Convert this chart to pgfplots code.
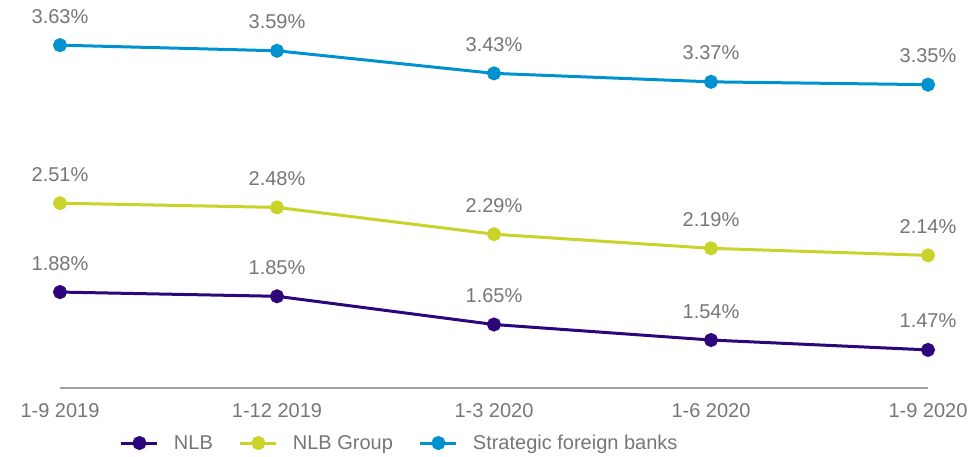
\documentclass[border=0pt]{standalone}
\usepackage{fontspec}
\setmainfont{Liberation Sans}
\usepackage{pgfplots}
\pgfplotsset{compat=1.18}
\definecolor{cblue}{RGB}{0,146,208}
\definecolor{cgreen}{RGB}{201,211,42}
\definecolor{cpurple}{RGB}{44,6,122}
\definecolor{txt}{RGB}{118,118,118}
\definecolor{axl}{RGB}{160,160,160}
\begin{document}
\begin{tikzpicture}
\path[use as bounding box] (0,0) rectangle (978pt,456pt);
\begin{axis}[
  at={(60pt,68pt)}, anchor=south west,
  scale only axis, width=868pt, height=388pt,
  xmin=0, xmax=4, ymin=1.2, ymax=3.95,
  clip=false,
  axis x line*=bottom, axis y line=none,
  x axis line style={draw=axl, line width=1.2pt},
  xtick={0,1,2,3,4},
  xticklabels={1-9 2019,1-12 2019,1-3 2020,1-6 2020,1-9 2020},
  major tick length=0pt,
  xticklabel style={anchor=base, yshift=-29pt, font=\fontsize{20}{24}\selectfont, text=txt, inner sep=0pt},
  /pgf/number format/assume math mode=true,
  nodes near coords={\pgfmathprintnumber[fixed,fixed zerofill,precision=2]{\pgfplotspointmeta}\%},
  every node near coord/.append style={anchor=base, yshift=22pt, font=\fontsize{20}{24}\selectfont, text=txt, inner sep=0pt},
  legend columns=3,
  legend style={at={(axis description cs:0.0691,-0.1418)}, anchor=west, draw=none, fill=none, inner sep=0pt, outer sep=0pt,
    font=\fontsize{20}{24}\selectfont, text=txt, column sep=0pt, nodes={inner sep=0pt}},
  /tikz/every odd column/.append style={column sep=15pt},
  /tikz/every even column/.append style={column sep=26pt},
  legend image code/.code={\draw[mark repeat=2,mark phase=2,#1] plot coordinates {(0pt,0pt) (18pt,0pt) (36pt,0pt)};},
  every axis plot/.append style={line width=3pt, mark=*, mark size=5.5pt, mark options={solid}},
]
\addplot[color=cpurple] coordinates {(0,1.88) (1,1.85) (2,1.65) (3,1.54) (4,1.47)};
\addlegendentry{NLB}
\addplot[color=cgreen] coordinates {(0,2.51) (1,2.48) (2,2.29) (3,2.19) (4,2.14)};
\addlegendentry{NLB Group}
\addplot[color=cblue] coordinates {(0,3.63) (1,3.59) (2,3.43) (3,3.37) (4,3.35)};
\addlegendentry{Strategic foreign banks}
\end{axis}
\end{tikzpicture}
\end{document}
